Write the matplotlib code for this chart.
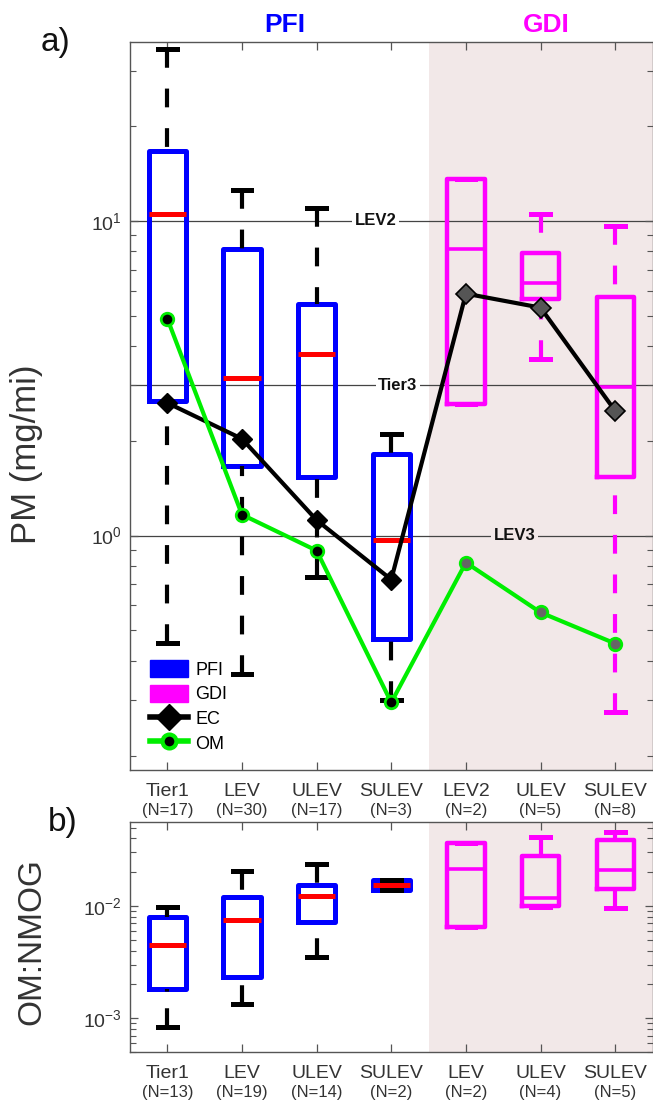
import matplotlib
matplotlib.use("Agg")
import matplotlib.pyplot as plt
from matplotlib.patches import Patch
from matplotlib.lines import Line2D
from matplotlib.ticker import LogLocator, NullFormatter

plt.rcParams['font.family'] = ['Liberation Sans', 'DejaVu Sans']
plt.rcParams['mathtext.fontset'] = 'custom'
plt.rcParams['mathtext.rm'] = 'Liberation Sans'

# ---- panel a: PM emission rates ----
categories_a = ['Tier1', 'LEV', 'ULEV', 'SULEV', 'LEV2', 'ULEV', 'SULEV']
counts_a = [17, 30, 17, 3, 2, 5, 8]
pm_whislo = [0.457, 0.362, 0.736, 0.300, 2.62, 3.65, 0.276]
pm_q1 = [2.68, 1.66, 1.53, 0.471, 2.62, 5.65, 1.54]
pm_med = [10.5, 3.17, 3.78, 0.971, 8.15, 6.36, 2.97]
pm_q3 = [16.7, 8.15, 5.45, 1.82, 13.6, 7.9, 5.74]
pm_whishi = [35.2, 12.5, 11.0, 2.11, 13.6, 10.5, 9.64]
ec = [2.64, 2.03, 1.12, 0.725, 5.87, 5.30, 2.49]
om = [4.89, 1.166, 0.896, 0.295, 0.821, 0.570, 0.454]

standards = [10, 3, 1]
standard_names = ['LEV2', 'Tier3', 'LEV3']

# ---- panel b: OM to NMOG ratio ----
categories_b = ['Tier1', 'LEV', 'ULEV', 'SULEV', 'LEV', 'ULEV', 'SULEV']
counts_b = [13, 19, 14, 2, 2, 4, 5]
ratio_whislo = [0.00083, 0.00133, 0.0035, 0.0139, 0.0065, 0.0098, 0.0096]
ratio_q1 = [0.00182, 0.00232, 0.0072, 0.0139, 0.0065, 0.0100, 0.0142]
ratio_med = [0.00449, 0.0075, 0.0123, 0.0154, 0.0214, 0.0118, 0.0209]
ratio_q3 = [0.00798, 0.0120, 0.0154, 0.0171, 0.0365, 0.0279, 0.0389]
ratio_whishi = [0.0098, 0.0205, 0.0237, 0.0171, 0.0365, 0.0413, 0.0458]

BLUE = '#0000ff'
MAGENTA = '#ff00ff'
RED = '#ff0000'
GREEN = '#00ee00'
SHADE = '#f2e8e8'
TXT = '#333333'
N_PFI = 4

fig = plt.figure(figsize=(6.53, 11.02), dpi=100)
ax_a = fig.add_axes([130 / 653, 1 - 770 / 1102, 522.5 / 653, 728 / 1102])
ax_b = fig.add_axes([130 / 653, 1 - 1052 / 1102, 522.5 / 653, 230 / 1102])

positions = list(range(1, len(categories_a) + 1))


def make_stats(lo, q1, med, q3, hi):
    return [dict(whislo=a, q1=b, med=c, q3=d, whishi=e, fliers=[])
            for a, b, c, d, e in zip(lo, q1, med, q3, hi)]


def draw_boxes(ax, stats, dashes):
    wls = (0, dashes)
    groups = [(slice(0, N_PFI), BLUE, RED, 'black', 3.6, 3.6),
              (slice(N_PFI, None), MAGENTA, MAGENTA, MAGENTA, 3.2, 2.6)]
    for sl, box_c, med_c, whisk_c, box_lw, med_lw in groups:
        parts = ax.bxp(stats[sl], positions=positions[sl], widths=0.5,
                       capwidths=0.25, showfliers=False, manage_ticks=False,
                       boxprops=dict(color=box_c, lw=box_lw),
                       medianprops=dict(color=med_c, lw=med_lw,
                                        solid_capstyle='butt'),
                       whiskerprops=dict(color=whisk_c, lw=3.0,
                                         linestyle=wls),
                       capprops=dict(color=whisk_c, lw=3.6), zorder=3)
        # run the dash pattern from the cap back towards the box
        for w in parts['whiskers']:
            xs, ys = w.get_data()
            w.set_data(list(xs)[::-1], list(ys)[::-1])


def style_axis(ax, names, counts):
    ax.set_xlim(0.5, 7.5)
    ax.set_yscale('log')
    ax.axvspan(4.5, 7.5, color=SHADE, zorder=0, lw=0)
    ax.set_xticks(positions)
    ax.set_xticklabels(names, fontsize=14, color=TXT)
    ax.tick_params(axis='both', which='both', direction='in', top=True,
                   right=True, colors='#555555', labelcolor=TXT)
    ax.tick_params(axis='both', which='major', length=6, width=0.9,
                   labelsize=14, pad=9)
    ax.tick_params(axis='y', which='minor', length=4, width=0.8)
    ax.tick_params(axis='y', which='major', pad=6)
    ax.yaxis.set_major_locator(LogLocator(base=10, numticks=10))
    ax.yaxis.set_minor_locator(LogLocator(base=10, subs=range(2, 10),
                                          numticks=20))
    ax.yaxis.set_minor_formatter(NullFormatter())
    for sp in ax.spines.values():
        sp.set_color('#555555')
        sp.set_linewidth(1.0)
    for x, n in zip(positions, counts):
        ax.annotate(f'(N={n})', xy=(x, 0), xycoords=('data', 'axes fraction'),
                    xytext=(0, -29), textcoords='offset points',
                    ha='center', va='center', fontsize=12, color=TXT)


# panel a
draw_boxes(ax_a, make_stats(pm_whislo, pm_q1, pm_med, pm_q3, pm_whishi),
           (4.5, 5))
ax_a.set_ylim(0.18, 37)
style_axis(ax_a, categories_a, counts_a)

label_x = [3.79, 4.09, 5.65]
for val, name, lx in zip(standards, standard_names, label_x):
    ax_a.axhline(val, color='#444444', lw=0.9, zorder=1)
    bg = SHADE if lx > 4.5 else 'white'
    ax_a.text(lx, val, name, ha='center', va='center', fontsize=12,
              fontweight='bold', color='#111111', zorder=2,
              bbox=dict(facecolor=bg, edgecolor='none', pad=2))

ax_a.plot(positions, ec, color='black', lw=3.0, zorder=5)
ax_a.plot(positions[:N_PFI], ec[:N_PFI], ls='none', marker='D', ms=10,
          mfc='black', mec='black', zorder=6)
ax_a.plot(positions[N_PFI:], ec[N_PFI:], ls='none', marker='D', ms=10,
          mfc='#555555', mec='black', mew=1.2, zorder=6)

ax_a.plot(positions, om, color=GREEN, lw=3.0, zorder=5)
ax_a.plot(positions[:N_PFI], om[:N_PFI], ls='none', marker='o', ms=9,
          mfc='black', mec=GREEN, mew=2, zorder=6)
ax_a.plot(positions[N_PFI:], om[N_PFI:], ls='none', marker='o', ms=9,
          mfc='#666666', mec=GREEN, mew=2, zorder=6)

handles = [Patch(facecolor=BLUE, edgecolor=BLUE),
           Patch(facecolor=MAGENTA, edgecolor=MAGENTA),
           Line2D([], [], color='black', lw=4, marker='D', ms=13,
                  mfc='black', mec='black'),
           Line2D([], [], color=GREEN, lw=4, marker='o', ms=10,
                  mfc='black', mec=GREEN, mew=3)]
ax_a.legend(handles, ['PFI', 'GDI', 'EC', 'OM'], loc='lower left',
            bbox_to_anchor=(0.025, 0.014), frameon=False, fontsize=13,
            handlelength=2.1, handleheight=1.1, handletextpad=0.4,
            labelspacing=0.32, borderaxespad=0)

fig.text(285 / 653, 1 - 25 / 1102, 'PFI', fontsize=19, fontweight='bold',
         color=BLUE, ha='center', va='center')
fig.text(546 / 653, 1 - 25 / 1102, 'GDI', fontsize=19, fontweight='bold',
         color=MAGENTA, ha='center', va='center')
fig.text(55 / 653, 1 - 42 / 1102, 'a)', fontsize=24, color='#111111',
         ha='center', va='center')
fig.text(27 / 653, 1 - 454 / 1102, 'PM (mg/mi)', fontsize=25, color=TXT,
         rotation=90, ha='center', va='center')

# panel b
draw_boxes(ax_b, make_stats(ratio_whislo, ratio_q1, ratio_med, ratio_q3,
                            ratio_whishi), (4.5, 4))
ax_b.set_ylim(5e-4, 0.056)
style_axis(ax_b, categories_b, counts_b)
fig.text(63 / 653, 1 - 822 / 1102, 'b)', fontsize=24, color='#111111',
         ha='center', va='center')
fig.text(32 / 653, 1 - 942 / 1102, 'OM:NMOG', fontsize=24, color=TXT,
         rotation=90, ha='center', va='center')

fig.savefig('out.png', dpi=100)
